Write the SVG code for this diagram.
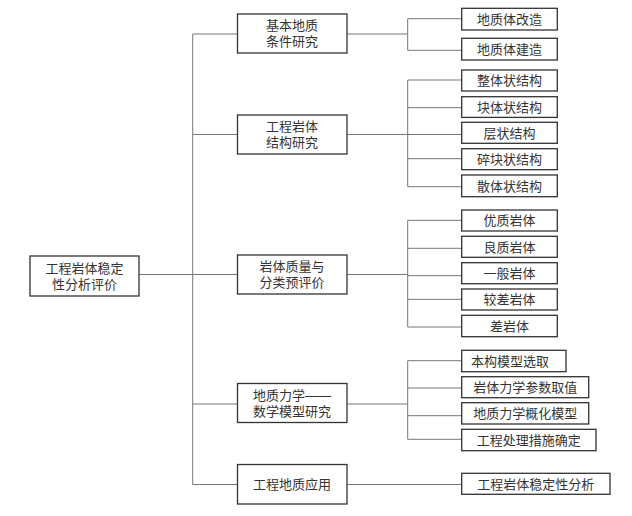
<svg xmlns="http://www.w3.org/2000/svg" width="632" height="516" viewBox="0 0 632 516">
<style>
.box{fill:#fff;stroke:#333;stroke-width:1.3}
.t{font-family:"Liberation Sans","Noto Sans CJK SC",sans-serif;font-size:13px;fill:#333;text-anchor:middle}
.c{fill:none;stroke:#777;stroke-width:1}
</style>
<rect width="632" height="516" fill="#fff"/>
<g id="connectors">
<path class="c" d="M139 274.5H192.7M192.7 34V484.5M192.7 34H237.5M192.7 134.5H237.5M192.7 274.5H237.5M192.7 404H237.5M192.7 484.5H237.5"/>
<path class="c" d="M347 34H407.7M407.7 18.7V50.3M407.7 18.7H461.7M407.7 50.3H461.7"/>
<path class="c" d="M347 134.5H407.7M407.7 80V186.7M407.7 80H461.7M407.7 107.7H461.7M407.7 134.5H461.7M407.7 158.7H461.7M407.7 186.7H461.7"/>
<path class="c" d="M347 274.5H407.7M407.7 220.3V327M407.7 220.3H461.7M407.7 248.3H461.7M407.7 275.7H461.7M407.7 299.3H461.7M407.7 327H461.7"/>
<path class="c" d="M347 404H407.7M407.7 360.7V439.3M407.7 360.7H461.7M407.7 388H461.7M407.7 415.7H461.7M407.7 439.3H461.7"/>
<path class="c" d="M347 484.5H461.7"/>
</g>
<g id="root"><rect class="box" x="30" y="256" width="109" height="40"/><text class="t"><tspan x="84.5" y="272.5">工程岩体稳定</tspan><tspan x="84.5" y="288.5">性分析评价</tspan></text></g>
<g id="n1"><rect class="box" x="237.5" y="14" width="109.5" height="39"/><text class="t"><tspan x="292" y="30">基本地质</tspan><tspan x="292" y="46">条件研究</tspan></text></g>
<g id="n2"><rect class="box" x="237.5" y="115" width="109.5" height="39"/><text class="t"><tspan x="292" y="131">工程岩体</tspan><tspan x="292" y="147">结构研究</tspan></text></g>
<g id="n3"><rect class="box" x="237.5" y="255" width="109.5" height="39"/><text class="t"><tspan x="292" y="271">岩体质量与</tspan><tspan x="292" y="287">分类预评价</tspan></text></g>
<g id="n4"><rect class="box" x="237.5" y="383.5" width="109.5" height="39"/><text class="t"><tspan x="292" y="399.5">地质力学——</tspan><tspan x="292" y="415.5">数学模型研究</tspan></text></g>
<g id="n5"><rect class="box" x="237.5" y="464.5" width="109.5" height="39.5"/><text class="t" x="292" y="489">工程地质应用</text></g>
<g id="l1a"><rect class="box" x="461.7" y="8.3" width="95.6" height="21.7"/><text class="t" x="509.5" y="23.5">地质体改造</text></g>
<g id="l1b"><rect class="box" x="461.7" y="38.3" width="95.6" height="21.7"/><text class="t" x="509.5" y="53.5">地质体建造</text></g>
<g id="l2a"><rect class="box" x="461.7" y="70" width="95.6" height="21"/><text class="t" x="509.5" y="85">整体状结构</text></g>
<g id="l2b"><rect class="box" x="461.7" y="96.7" width="95.6" height="20.7"/><text class="t" x="509.5" y="111.5">块体状结构</text></g>
<g id="l2c"><rect class="box" x="461.7" y="122.3" width="95.6" height="21"/><text class="t" x="509.5" y="137.5">层状结构</text></g>
<g id="l2d"><rect class="box" x="461.7" y="148.7" width="95.6" height="21"/><text class="t" x="509.5" y="164">碎块状结构</text></g>
<g id="l2e"><rect class="box" x="461.7" y="175" width="95.6" height="21.7"/><text class="t" x="509.5" y="190.5">散体状结构</text></g>
<g id="l3a"><rect class="box" x="461.7" y="210" width="95.6" height="21"/><text class="t" x="509.5" y="225">优质岩体</text></g>
<g id="l3b"><rect class="box" x="461.7" y="236.3" width="95.6" height="21"/><text class="t" x="509.5" y="251.5">良质岩体</text></g>
<g id="l3c"><rect class="box" x="461.7" y="262.7" width="95.6" height="21"/><text class="t" x="509.5" y="278">一般岩体</text></g>
<g id="l3d"><rect class="box" x="461.7" y="289" width="95.6" height="21"/><text class="t" x="509.5" y="304">较差岩体</text></g>
<g id="l3e"><rect class="box" x="461.7" y="315.3" width="95.6" height="21.4"/><text class="t" x="509.5" y="330.5">差岩体</text></g>
<g id="l4a"><rect class="box" x="461.7" y="350.3" width="104.3" height="21.4"/><text class="t" x="510" y="365.5">本构模型选取</text></g>
<g id="l4b"><rect class="box" x="461.7" y="376.7" width="127" height="21"/><text class="t" x="525.2" y="392">岩体力学参数取值</text></g>
<g id="l4c"><rect class="box" x="461.7" y="402.7" width="127" height="21.3"/><text class="t" x="525.2" y="418">地质力学概化模型</text></g>
<g id="l4d"><rect class="box" x="461.7" y="429.3" width="134.3" height="21.4"/><text class="t" x="528.8" y="444.5">工程处理措施确定</text></g>
<g id="l5a"><rect class="box" x="461.7" y="473.3" width="148.3" height="21"/><text class="t" x="535.8" y="488.5">工程岩体稳定性分析</text></g>
</svg>
